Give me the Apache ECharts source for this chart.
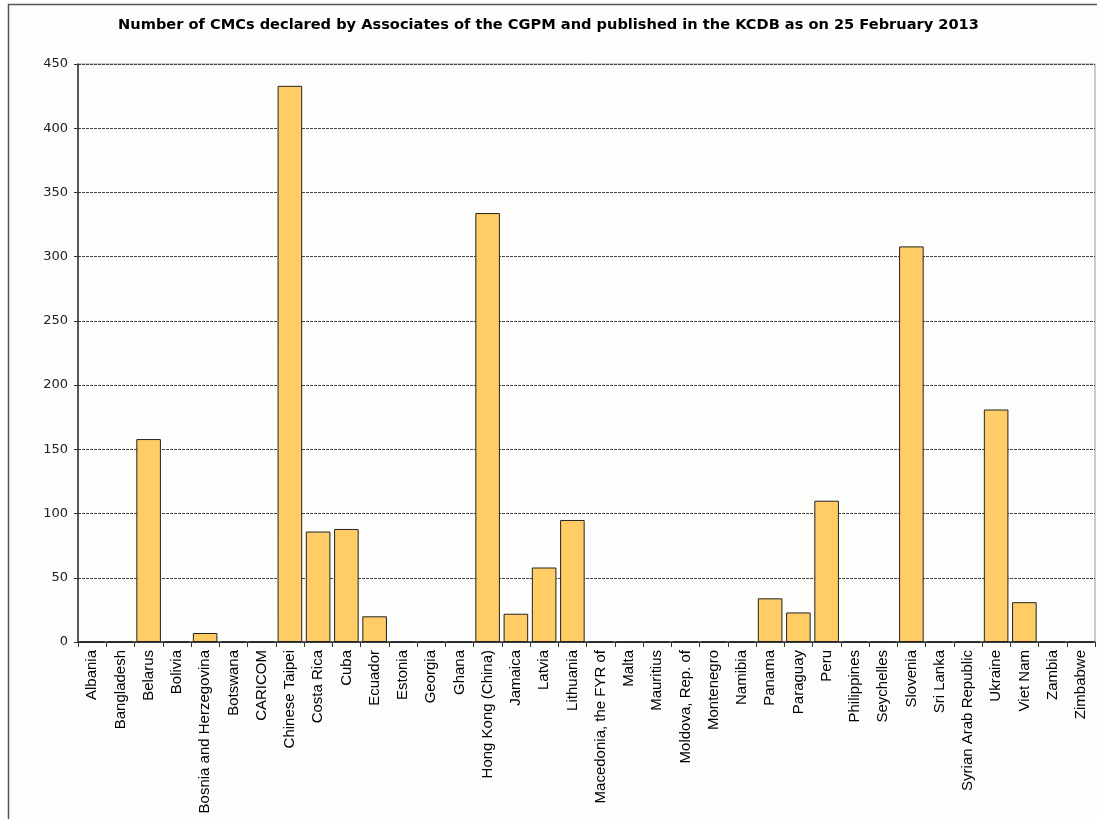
<!DOCTYPE html>
<html>
<head>
<meta charset="utf-8">
<script src="https://cdn.jsdelivr.net/npm/echarts@6/dist/echarts.min.js"></script>
<style>
html,body{margin:0;padding:0;background:#ffffff;}
#chart{width:1097px;height:819px;}
</style>
</head>
<body>
<div id="chart"></div>
<script>
const titleText = 'Number of CMCs declared by Associates of the CGPM and published in the KCDB as on 25 February 2013';
const categories = ['Albania','Bangladesh','Belarus','Bolivia','Bosnia and Herzegovina','Botswana','CARICOM','Chinese Taipei','Costa Rica','Cuba','Ecuador','Estonia','Georgia','Ghana','Hong Kong (China)','Jamaica','Latvia','Lithuania','Macedonia, the FYR of','Malta','Mauritius','Moldova, Rep. of','Montenegro','Namibia','Panama','Paraguay','Peru','Philippines','Seychelles','Slovenia','Sri Lanka','Syrian Arab Republic','Ukraine','Viet Nam','Zambia','Zimbabwe'];
const cmcValues = [0,0,158,0,7,0,0,433,86,88,20,0,0,0,334,22,58,95,0,0,0,0,0,0,34,23,110,0,0,308,0,0,181,31,0,0];
const yTicks = {min:0, max:450, interval:50};

const chart = echarts.init(document.getElementById('chart'));
chart.setOption({
  backgroundColor:'#ffffff',
  animation:false,
  graphic:[
    {type:'rect', z:-10, shape:{x:8.5,y:4.5,width:1100,height:830}, style:{fill:'#fdfdfc', stroke:'#555555', lineWidth:1.5}}
  ],
  title:{
    text:titleText, left:'center', top:13,
    textStyle:{fontFamily:'DejaVu Sans', fontWeight:'bold', fontSize:14.6, color:'#000'}
  },
  grid:{left:78, top:64, right:2, bottom:177, show:true, borderColor:'#999999', borderWidth:1, backgroundColor:'transparent'},
  xAxis:{
    type:'category', data:categories,
    axisLine:{lineStyle:{color:'#333', width:1.5}},
    axisTick:{show:true, length:5, lineStyle:{color:'#333'}},
    axisLabel:{rotate:90, interval:0, margin:8, fontFamily:'Liberation Sans', fontSize:15, color:'#000'}
  },
  yAxis:{
    type:'value', min:yTicks.min, max:yTicks.max, interval:yTicks.interval,
    axisLine:{show:true, lineStyle:{color:'#333', width:1.5}},
    axisTick:{show:true, length:4, lineStyle:{color:'#333'}},
    axisLabel:{fontFamily:'DejaVu Sans', fontSize:13, color:'#222', margin:10},
    splitLine:{lineStyle:{color:'#444', type:[3,1], width:1}}
  },
  series:[{
    type:'bar', data:cmcValues, barCategoryGap:'13%',
    itemStyle:{color:'#FFCC66', borderColor:'#222', borderWidth:1}
  }]
});
</script>
</body>
</html>
